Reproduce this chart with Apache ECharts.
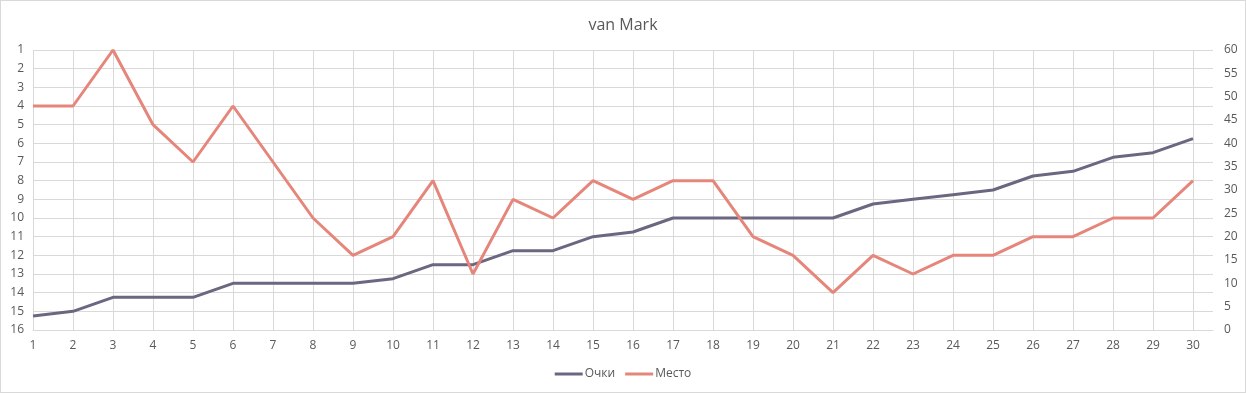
<!DOCTYPE html>
<html>
<head>
<meta charset="utf-8">
<script src="https://cdn.jsdelivr.net/npm/echarts@6/dist/echarts.min.js"></script>
<style>
html,body{margin:0;padding:0;background:#fff;}
#c{width:1244px;height:391px;border:1px solid #D9D9D9;}
</style>
</head>
<body>
<div id="c"></div>
<script>
const title = "van Mark";
const rounds = [1,2,3,4,5,6,7,8,9,10,11,12,13,14,15,16,17,18,19,20,21,22,23,24,25,26,27,28,29,30];
const points = [3,4,7,7,7,10,10,10,10,11,14,14,17,17,20,21,24,24,24,24,24,27,28,29,30,33,34,37,38,41];
const places = [4,4,1,5,7,4,7,10,12,11,8,13,9,10,8,9,8,8,11,12,14,12,13,12,12,11,11,10,10,8];
const leftTicks = [1,16,1];
const rightTicks = [0,60,5];

const font = "'Open Sans', 'Noto Sans', sans-serif";
const textColor = '#595959';
const chart = echarts.init(document.getElementById('c'));
chart.setOption({
  animation: false,
  title: {
    text: title, left: 'center', top: 11,
    textStyle: {fontFamily: font, fontSize: 16, fontWeight: 'normal', color: textColor}
  },
  legend: {
    bottom: 7, left: 'center', itemWidth: 28, itemHeight: 3, itemGap: 10,
    icon: 'rect',
    textStyle: {fontFamily: font, fontSize: 12, color: textColor, padding: [0, 0, 0, -3]},
    data: ['Очки', 'Место']
  },
  grid: {left: 32, right: 32, top: 49, bottom: 62, containLabel: false},
  xAxis: {
    type: 'value', min: 1, max: 30.5, interval: 1,
    axisLine: {show: true, lineStyle: {color: '#D9D9D9', width: 1}},
    axisTick: {show: false},
    splitLine: {show: true, showMaxLine: false, lineStyle: {color: '#D9D9D9', width: 1}},
    axisLabel: {
      showMaxLabel: false, margin: 10,
      fontFamily: font, fontSize: 12, color: textColor,
      formatter: v => Number.isInteger(v) ? String(v) : ''
    }
  },
  yAxis: [
    {
      type: 'value', inverse: true, min: leftTicks[0], max: leftTicks[1], interval: leftTicks[2],
      axisLine: {show: false}, axisTick: {show: false},
      splitLine: {show: true, lineStyle: {color: '#D9D9D9', width: 1}},
      axisLabel: {fontFamily: font, fontSize: 12, color: textColor, margin: 9}
    },
    {
      type: 'value', min: rightTicks[0], max: rightTicks[1], interval: rightTicks[2],
      position: 'right',
      axisLine: {show: false}, axisTick: {show: false},
      splitLine: {show: false},
      axisLabel: {fontFamily: font, fontSize: 12, color: textColor, margin: 11}
    }
  ],
  series: [
    {
      name: 'Очки', type: 'line', yAxisIndex: 1, symbol: 'none',
      color: '#6C6780',
      lineStyle: {width: 3, color: '#6C6780'},
      data: rounds.map((r, i) => [r, points[i]])
    },
    {
      name: 'Место', type: 'line', yAxisIndex: 0, symbol: 'none',
      color: '#E6867B',
      lineStyle: {width: 3, color: '#E6867B'},
      data: rounds.map((r, i) => [r, places[i]])
    }
  ]
});
</script>
</body>
</html>
